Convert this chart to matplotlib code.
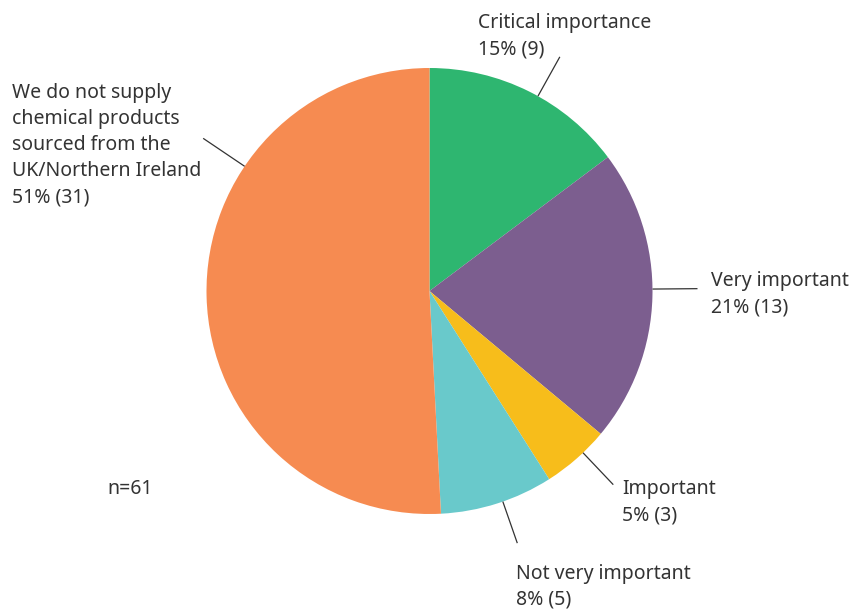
import numpy as np
import matplotlib
matplotlib.use("Agg")
import matplotlib.pyplot as plt

# Survey responses (count of respondents per answer)
categories = ["Critical importance", "Very important", "Important",
              "Not very important",
              "We do not supply\nchemical products\nsourced from the\nUK/Northern Ireland"]
counts = [9, 13, 3, 5, 31]
percents = [15, 21, 5, 8, 51]
colors = ["#2eb670", "#7c5e8f", "#f7bd1b", "#69c9cb", "#f68b51"]
n_total = 61

W, H = 855, 609
fig = plt.figure(figsize=(W / 100, H / 100), dpi=100)
ax = fig.add_axes([0, 0, 1, 1])

cx, cy_px, r = 429.5, 291, 223
cy = H - cy_px

wedges, _ = ax.pie(counts, colors=colors, startangle=90, counterclock=False,
                   center=(cx, cy), radius=r, frame=True,
                   wedgeprops=dict(linewidth=0))
ax.set_xlim(0, W)
ax.set_ylim(0, H)
ax.set_aspect("equal")
ax.axis("off")

text_color = "#333333"
font = dict(family=["Noto Sans", "DejaVu Sans"], fontsize=14, color=text_color)

# leader line angles (degrees, counter-clockwise from +x) and outer radius
leader_angles = [60.9, 0.5, -46.5, -70.8, 146.0]
outer = [268, 268, 267, 267, 273]
# label anchor: left x, first-line baseline (pixels from top)
label_pos = [(478, 28), (711, 286), (622, 494), (516, 579), (12, 98)]
line_step = 26

for i in range(len(counts)):
    a = np.deg2rad(leader_angles[i])
    x0, y0 = cx + r * np.cos(a), cy + r * np.sin(a)
    x1, y1 = cx + outer[i] * np.cos(a), cy + outer[i] * np.sin(a)
    ax.plot([x0, x1], [y0, y1], color="#333333", lw=0.9, solid_capstyle="butt")
    lines = categories[i].split("\n") + [f"{percents[i]}% ({counts[i]})"]
    lx, by = label_pos[i]
    for k, ln in enumerate(lines):
        ax.text(lx, H - (by + k * line_step), ln, ha="left", va="baseline", **font)

ax.text(107, H - 494, f"n={n_total}", ha="left", va="baseline", **font)

fig.savefig("out.png", dpi=100)
